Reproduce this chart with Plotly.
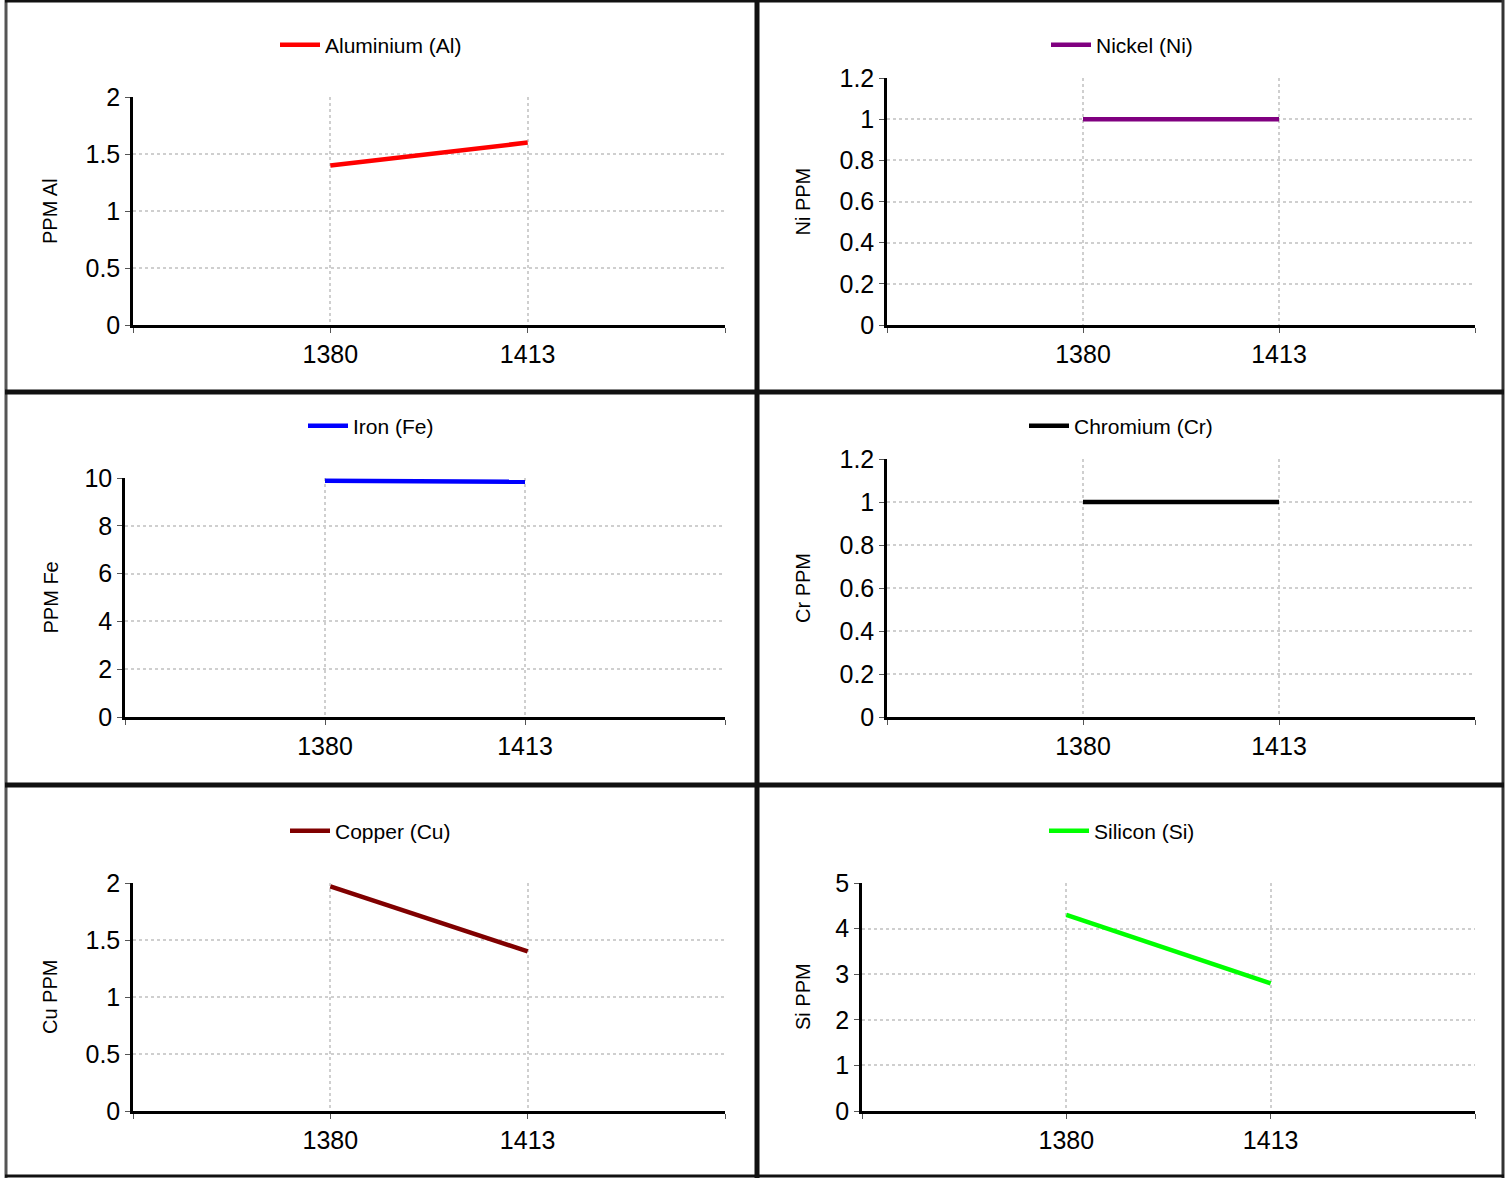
import plotly.graph_objects as go

# ---------------- data ----------------
categories = ["1380", "1413"]

al_values = [1.4, 1.6]
ni_values = [1.0, 1.0]
fe_values = [9.88, 9.84]
cr_values = [1.0, 1.0]
cu_values = [1.97, 1.4]
si_values = [4.3, 2.8]

names = ["Aluminium (Al)", "Nickel (Ni)", "Iron (Fe)", "Chromium (Cr)", "Copper (Cu)", "Silicon (Si)"]
y_titles = ["PPM Al", "Ni PPM", "PPM Fe", "Cr PPM", "Cu PPM", "Si PPM"]
colors = ["#ff0000", "#800080", "#0000ff", "#000000", "#800000", "#00ff00"]
series = [al_values, ni_values, fe_values, cr_values, cu_values, si_values]
y_max = [2, 1.2, 10, 1.2, 2, 5]
y_step = [0.5, 0.2, 2, 0.2, 0.5, 1]

# ---------------- layout geometry (pixels) ----------------
W, H = 1510, 1178
# plot areas: (left, right, top, bottom)
areas = [
    (133, 725, 97, 325),
    (887, 1475, 78, 325),
    (125, 725, 478, 717),
    (887, 1475, 459, 717),
    (133, 725, 883, 1111),
    (862, 1475, 883, 1111),
]
legend_pos = [(275, 45), (1046, 45), (303, 426), (1024, 426), (285, 831), (1044, 831)]
title_x = [50, 803, 50, 803, 50, 803]

def px(x):
    return x / W

def py(y):
    return 1 - y / H

x_positions = [i + 1 for i in range(len(categories))]
n_slots = len(categories) + 1

fig = go.Figure()
layout = dict(
    width=W, height=H,
    margin=dict(l=0, r=0, t=0, b=0, pad=0, autoexpand=False),
    paper_bgcolor="white", plot_bgcolor="white",
    font=dict(family="Liberation Sans, Arial, sans-serif", color="black"),
    annotations=[], shapes=[],
)

for i in range(6):
    xa = "x" if i == 0 else f"x{i+1}"
    ya = "y" if i == 0 else f"y{i+1}"
    lg = "legend" if i == 0 else f"legend{i+1}"
    fig.add_trace(go.Scatter(
        x=x_positions, y=series[i], mode="lines", name=names[i],
        line=dict(color=colors[i], width=4.5),
        xaxis=xa, yaxis=ya, legend=lg, showlegend=True,
        hovertext=categories,
    ))
    l, r, t, b = areas[i]
    key_x = "xaxis" if i == 0 else f"xaxis{i+1}"
    key_y = "yaxis" if i == 0 else f"yaxis{i+1}"
    layout[key_x] = dict(
        domain=[px(l), px(r)], anchor=ya, range=[0, n_slots],
        tickvals=[0] + x_positions + [n_slots], ticktext=[""] + categories + [""],
        showgrid=True, gridcolor="#cfcfcf", griddash="dot", gridwidth=1.5,
        showline=True, linecolor="black", linewidth=2.5,
        ticks="outside", ticklen=5, tickcolor="#555", tickwidth=1,
        tickfont=dict(size=25), zeroline=False, fixedrange=True, automargin=False,
    )
    layout[key_y] = dict(
        domain=[py(b), py(t)], anchor=xa, range=[0, y_max[i]],
        dtick=y_step[i], tick0=0,
        showgrid=True, gridcolor="#cfcfcf", griddash="dot", gridwidth=1.5,
        showline=True, linecolor="black", linewidth=2.5,
        ticks="outside", ticklen=5, tickcolor="#555", tickwidth=1,
        tickfont=dict(size=25), zeroline=False, fixedrange=True, automargin=False,
    )
    lx, ly = legend_pos[i]
    layout[lg] = dict(
        x=px(lx), y=py(ly), xanchor="left", yanchor="middle",
        font=dict(size=21), bgcolor="rgba(0,0,0,0)", borderwidth=0,
        itemwidth=40,
    )
    layout["annotations"].append(dict(
        text=y_titles[i], xref="paper", yref="paper",
        x=px(title_x[i]), y=py((t + b) / 2), xanchor="center", yanchor="middle",
        textangle=-90, showarrow=False, font=dict(size=20),
    ))

# panel frame lines
frame = [
    # (x0, y0, x1, y1, width, color)
    (6, 0, 6, H, 3, "#555555"),
    (5, 1, 1504, 1, 3, "#111111"),
    (1503, 0, 1503, H, 3, "#333333"),
    (5, 1176, 1504, 1176, 3, "#111111"),
    (757, 0, 757, H, 5, "#111111"),
    (5, 392, 1504, 392, 5, "#111111"),
    (5, 785, 1504, 785, 5, "#111111"),
]
for x0, y0, x1, y1, w, c in frame:
    layout["shapes"].append(dict(
        type="line", xref="paper", yref="paper",
        x0=px(x0), y0=py(y0), x1=px(x1), y1=py(y1),
        line=dict(color=c, width=w), layer="above",
    ))

fig.update_layout(**layout)
fig.write_html("out.html", config={"displayModeBar": False},
               post_script="document.body.style.margin='0px';")
